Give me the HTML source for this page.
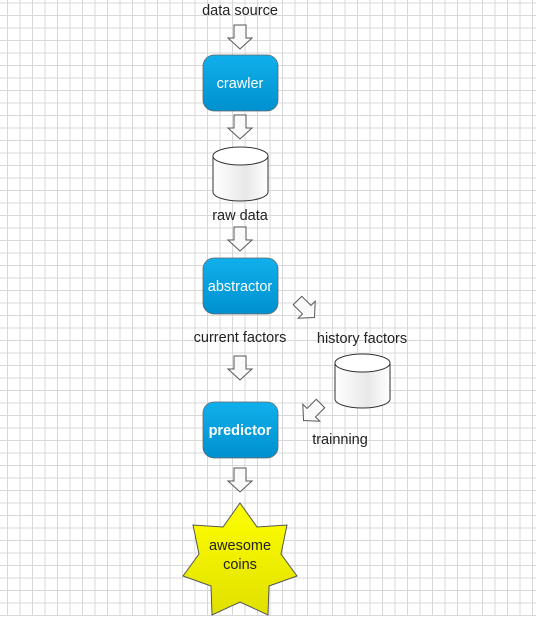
<!DOCTYPE html>
<html><head><style>
html,body{margin:0;padding:0;}
body{width:536px;height:616px;overflow:hidden;background:#fff;font-family:"Liberation Sans",sans-serif;}
</style></head><body>
<svg width="536" height="616" viewBox="0 0 536 616" xmlns="http://www.w3.org/2000/svg">
<defs>
<pattern id="g" x="7" y="2.5" width="12.5" height="12.5" patternUnits="userSpaceOnUse">
<path d="M0.5,0 V12.5 M0,0.5 H12.5" stroke="#d8d8d8" stroke-width="1" fill="none"/>
</pattern>
<linearGradient id="bl" x1="0" y1="0" x2="0" y2="1"><stop offset="0" stop-color="#10b0ec"/><stop offset="1" stop-color="#0090cf"/></linearGradient>
<linearGradient id="cy" x1="0" y1="0" x2="1" y2="0"><stop offset="0" stop-color="#fff"/><stop offset="0.6" stop-color="#e8e8e8"/><stop offset="1" stop-color="#fff"/></linearGradient>
<linearGradient id="st" x1="0" y1="0" x2="0" y2="1"><stop offset="0" stop-color="#ffff00"/><stop offset="1" stop-color="#e0e000"/></linearGradient>
<path id="ar" d="M-6,-12 H6 V1 H12 L0,12 L-12,1 H-6 Z" fill="#fafafa" stroke="#555" stroke-width="1"/>
<g id="cyl">
<path d="M0,9 V45 A27.5,9 0 0 0 55,45 V9" fill="url(#cy)" stroke="#333" stroke-width="1"/>
<ellipse cx="27.5" cy="9" rx="27.5" ry="9" fill="#fff" stroke="#333" stroke-width="1"/>
</g>
</defs>
<rect width="536" height="616" fill="url(#g)"/>
<g font-size="14.5" fill="#222" text-anchor="middle">
<text x="240" y="15">data source</text>
<text x="240" y="220">raw data</text>
<text x="240" y="342">current factors</text>
<text x="362" y="343">history factors</text>
<text x="340" y="444">trainning</text>
</g>
<use href="#ar" x="240" y="37"/>
<use href="#ar" x="240" y="127"/>
<use href="#ar" x="240" y="239"/>
<use href="#ar" x="240" y="368"/>
<use href="#ar" x="240" y="480"/>
<use href="#ar" transform="translate(306,309) rotate(-45)"/>
<use href="#ar" transform="translate(312,412) rotate(45)"/>
<rect x="203" y="55" width="75" height="56" rx="11" fill="url(#bl)" stroke="#666" stroke-width="0.8"/>
<rect x="203" y="258" width="75" height="56" rx="11" fill="url(#bl)" stroke="#666" stroke-width="0.8"/>
<rect x="203" y="402" width="75" height="56" rx="11" fill="url(#bl)" stroke="#666" stroke-width="0.8"/>
<g font-size="14.5" fill="#fff" text-anchor="middle">
<text x="240" y="88">crawler</text>
<text x="240" y="291">abstractor</text>
<text x="240" y="435" font-weight="bold">predictor</text>
</g>
<use href="#cyl" x="213" y="147"/>
<use href="#cyl" x="335" y="354"/>
<polygon points="240,503 257,527 287,525 281,554 297,576 269,586 268,615 240,602 212,615 211,586 183,576 199,554 193,525 223,527" fill="url(#st)" stroke="#555" stroke-width="1"/>
<g font-size="14.5" fill="#222" text-anchor="middle">
<text x="240" y="550">awesome</text>
<text x="240" y="569">coins</text>
</g>
</svg>
</body></html>
